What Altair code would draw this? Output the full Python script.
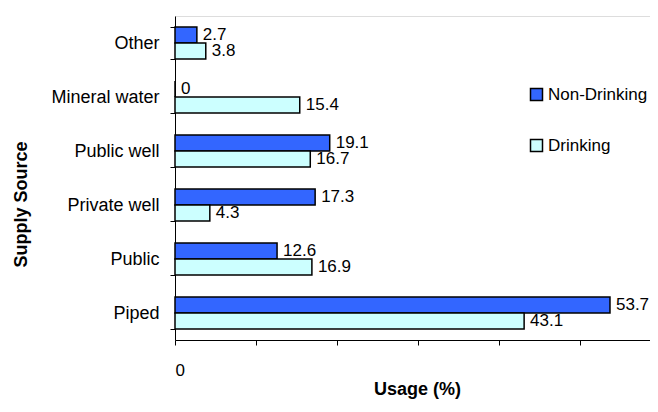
import altair as alt
import pandas as pd

categories = ["Other", "Mineral water", "Public well", "Private well", "Public", "Piped"]
series = ["Non-Drinking", "Drinking"]
non_drinking = [2.7, 0, 19.1, 17.3, 12.6, 53.7]
drinking = [3.8, 15.4, 16.7, 4.3, 16.9, 43.1]
x_ticks = [0, 10, 20, 30, 40, 50]

rows = []
for c, nd, d in zip(categories, non_drinking, drinking):
    rows.append({"Source": c, "Type": "Non-Drinking", "Usage": nd})
    rows.append({"Source": c, "Type": "Drinking", "Usage": d})
df = pd.DataFrame(rows)

FONT = "Liberation Sans"

y_enc = alt.Y(
    "Source:N",
    sort=categories,
    scale=alt.Scale(paddingInner=0.41, paddingOuter=0.205),
    axis=alt.Axis(
        title="Supply Source",
        titleFont=FONT, titleFontSize=18, titleFontWeight="bold", titleColor="black",
        titleAngle=270, titleAlign="center", titleBaseline="alphabetic",
        titleX=-149, titleY=188,
        labelFont=FONT, labelFontSize=18, labelColor="black", labelPadding=11,
        tickBand="extent", tickSize=5, tickColor="black", domainColor="black",
        grid=False,
    ),
)
yoff = alt.YOffset("Type:N", sort=series, scale=alt.Scale(paddingInner=0, paddingOuter=0))
x_enc = alt.X(
    "Usage:Q",
    scale=alt.Scale(domain=[0, 58.64], nice=False, zero=True),
    axis=alt.Axis(
        title="Usage (%)",
        titleFont=FONT, titleFontSize=18, titleFontWeight="bold", titleColor="black",
        titleAlign="center", titleBaseline="alphabetic", titleX=242, titleY=54,
        values=x_ticks, labelExpr="datum.value == 0 ? '0' : ''",
        labelFont=FONT, labelFontSize=17, labelColor="black", labelPadding=17,
        tickSize=5, tickColor="black", domainColor="black", grid=False,
    ),
)

bars = alt.Chart(df).mark_bar(stroke="black", strokeWidth=1.5).encode(
    x=x_enc,
    y=y_enc,
    yOffset=yoff,
    color=alt.Color(
        "Type:N",
        sort=series,
        scale=alt.Scale(domain=series, range=["#3366FF", "#CCFFFF"]),
        legend=alt.Legend(
            title=None, orient="none", legendX=353, legendY=70,
            symbolType="square", symbolSize=144, symbolStrokeColor="black",
            symbolStrokeWidth=1.5, labelFont=FONT, labelFontSize=17,
            labelColor="black", rowPadding=32, labelOffset=3,
        ),
    ),
)

labels = alt.Chart(df).mark_text(
    align="left", baseline="middle", dx=6, font=FONT, fontSize=17, color="black"
).encode(
    x=alt.X("Usage:Q"),
    y=alt.Y("Source:N", sort=categories),
    yOffset=alt.YOffset("Type:N", sort=series),
    text=alt.Text("Usage:Q", format=".1~f"),
)

chart = (
    alt.layer(bars, labels)
    .properties(
        width=475,
        height=324,
        autosize=alt.AutoSizeParams(type="none"),
        padding={"left": 167, "top": 8, "right": 0, "bottom": 59},
    )
    .configure_view(stroke=None)
    .configure(background="white")
)

chart.save("out.html", embed_options={"renderer": "svg", "actions": False})
